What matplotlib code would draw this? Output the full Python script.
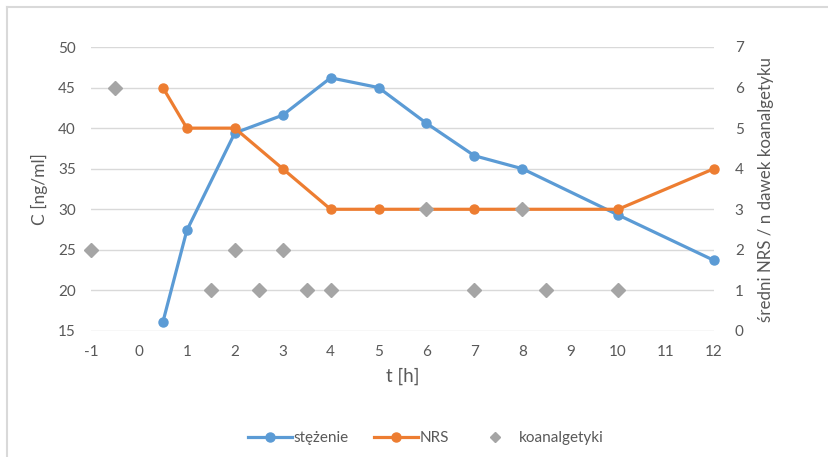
import matplotlib
matplotlib.use("Agg")
import matplotlib.pyplot as plt
from matplotlib.lines import Line2D

plt.rcParams['font.family'] = ['Lato', 'DejaVu Sans']
plt.rcParams['axes.unicode_minus'] = False

# concentration (left axis)
t_conc = [0.5, 1, 2, 3, 4, 5, 6, 7, 8, 10, 12]
conc = [16.1, 27.4, 39.4, 41.6, 46.2, 45.0, 40.6, 36.6, 35.0, 29.3, 23.7]

# mean NRS (right axis)
t_nrs = [0.5, 1, 2, 3, 4, 5, 6, 7, 8, 10, 12]
nrs = [6, 5, 5, 4, 3, 3, 3, 3, 3, 3, 4]

# number of co-analgesic doses (right axis)
t_koan = [-1, -0.5, 1.5, 2, 2.5, 3, 3.5, 4, 6, 7, 8, 8.5, 10]
koan = [2, 6, 1, 2, 1, 2, 1, 1, 3, 1, 3, 1, 1]

x_ticks = list(range(-1, 13))
left_ticks = [15, 20, 25, 30, 35, 40, 45, 50]
right_ticks = [0, 1, 2, 3, 4, 5, 6, 7]

BLUE = '#5b9bd5'
ORANGE = '#ed7d31'
GRAY = '#a5a5a5'
TXT = '#595959'
GRID = '#d9d9d9'

W, H = 829, 457
fig = plt.figure(figsize=(W / 100, H / 100), dpi=100)
ax = fig.add_axes([91 / W, 1 - 331 / H, (714 - 91) / W, (331 - 47) / H])
ax2 = ax.twinx()

ax.set_xlim(-1, 12)
ax.set_ylim(15, 50)
ax2.set_ylim(0, 7)
ax.set_xticks(x_ticks)
ax.set_yticks(left_ticks)
ax2.set_yticks(right_ticks)

for a in (ax, ax2):
    for s in a.spines.values():
        s.set_visible(False)
    a.tick_params(length=0, colors=TXT, labelsize=11)
ax.tick_params(axis='x', pad=10)
ax.tick_params(axis='y', pad=11)
ax2.tick_params(axis='y', pad=15)

ax.yaxis.grid(True, color=GRID, linewidth=1)
ax.set_axisbelow(True)

ax.set_xlabel('t [h]', color=TXT, fontsize=13.5, labelpad=6)
ax.set_ylabel('C [ng/ml]', color=TXT, fontsize=12.5, labelpad=7)
ax2.set_ylabel('średni NRS / n dawek koanalgetyku', color=TXT, fontsize=12.2, labelpad=10)

# concentration on the primary axis
ax.plot(t_conc, conc, color=BLUE, linewidth=2.3, marker='o', markersize=6.5,
        label='stężenie', clip_on=False)
# NRS and co-analgesics on the secondary axis
ax2.plot(t_nrs, nrs, color=ORANGE, linewidth=2.3, marker='o', markersize=6.5,
         label='NRS', zorder=3, clip_on=False)
ax2.plot(t_koan, koan, linestyle='none', marker='D', markersize=7.5,
         color=GRAY, label='koanalgetyki', zorder=4, clip_on=False)

handles = [
    Line2D([], [], color=BLUE, linewidth=2.3, marker='o', markersize=6.5),
    Line2D([], [], color=ORANGE, linewidth=2.3, marker='o', markersize=6.5),
    Line2D([], [], color=GRAY, linestyle='none', marker='D', markersize=5),
]
fig.legend(handles, ['stężenie', 'NRS', 'koanalgetyki'], loc='center',
           bbox_to_anchor=(426 / W, 1 - 438 / H), ncol=3, frameon=False,
           fontsize=11, labelcolor=TXT, handlelength=2.9, columnspacing=1.6,
           handletextpad=0.1)

# outer frame: top and left edges
fig.add_artist(Line2D([7 / W, 7 / W], [0, 1 - 7 / H], transform=fig.transFigure,
                      color='#d9d9d9', linewidth=1.5))
fig.add_artist(Line2D([7 / W, 1], [1 - 7 / H, 1 - 7 / H], transform=fig.transFigure,
                      color='#d9d9d9', linewidth=1.5))

fig.savefig('out.png', dpi=100, facecolor='white')
